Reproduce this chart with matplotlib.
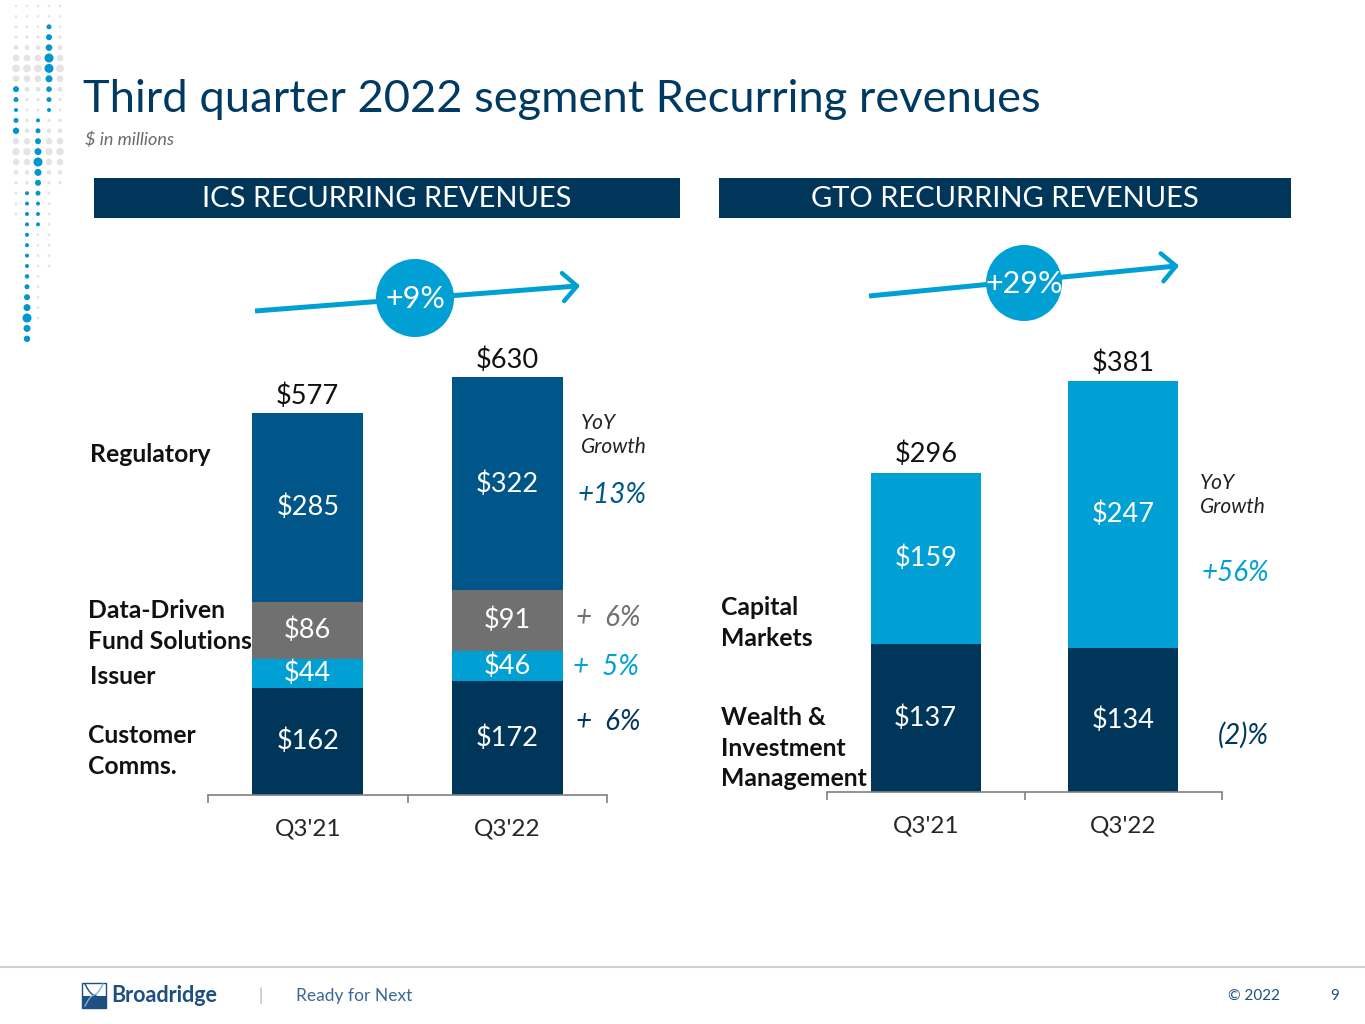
import numpy as np
import matplotlib
matplotlib.use("Agg")
import matplotlib.pyplot as plt
from matplotlib.patches import Circle, Rectangle

plt.rcParams['font.family'] = ['Lato', 'DejaVu Sans']

# ---------------- data ----------------
periods = ["Q3'21", "Q3'22"]

ics_segments = ["Customer Comms.", "Issuer", "Data-Driven Fund Solutions", "Regulatory"]
ics_customer_comms = [162, 172]
ics_issuer = [44, 46]
ics_ddfs = [86, 91]
ics_regulatory = [285, 322]
ics_totals = [577, 630]
ics_growth = ["+  6%", "+  5%", "+  6%", "+13%"]
ics_total_growth = "+9%"

gto_segments = ["Wealth & Investment Management", "Capital Markets"]
gto_wim = [137, 134]
gto_capital_markets = [159, 247]
gto_totals = [296, 381]
gto_growth = ["(2)%", "+56%"]
gto_total_growth = "+29%"

# ---------------- style ----------------
NAVY = "#00365A"
REG = "#005688"
GREY = "#707070"
LBLUE = "#00A0D5"
TITLE = "#003A63"

W, H = 1365, 1024
fig = plt.figure(figsize=(W / 100, H / 100), dpi=100)

# overlay in pixel coordinates
ov = fig.add_axes([0, 0, 1, 1])
ov.set_xlim(0, W)
ov.set_ylim(H, 0)
ov.axis("off")


def px_axes(x0, x1, ybase, ytop):
    return fig.add_axes([x0 / W, 1 - ybase / H, (x1 - x0) / W, (ybase - ytop) / H])


def style_axes(ax, px_per_unit, ybase, ytop):
    ax.set_xlim(-0.5, 1.5)
    ax.set_ylim(0, (ybase - ytop) / px_per_unit)
    ax.patch.set_alpha(0)
    for s in ["top", "right", "left"]:
        ax.spines[s].set_visible(False)
    ax.spines["bottom"].set_color("#808080")
    ax.spines["bottom"].set_linewidth(1.2)
    ax.set_yticks([])
    ax.set_xticks([0, 1])
    ax.set_xticklabels(periods, fontsize=17.5, color="#262626")
    ax.tick_params(axis="x", which="major", length=0, pad=17)
    ax.set_xticks([-0.5, 0.5, 1.5], minor=True)
    ax.tick_params(axis="x", which="minor", length=6, width=1.2, color="#808080",
                   direction="out")


def stacked(ax, layers, colors, width):
    x = np.arange(len(periods))
    bottom = np.zeros(len(periods))
    for vals, col in zip(layers, colors):
        vals = np.asarray(vals, dtype=float)
        ax.bar(x, vals, width, bottom=bottom, color=col, edgecolor="none")
        for xi, b, v in zip(x, bottom, vals):
            ax.text(xi, b + v / 2, f"${int(v)}", ha="center", va="center",
                    color="white", fontsize=19.5)
        bottom = bottom + vals
    return bottom


# ---------------- left chart (ICS) ----------------
axL = px_axes(208, 607, 795, 300)
style_axes(axL, 0.662, 795, 300)
stacked(axL, [ics_customer_comms, ics_issuer, ics_ddfs, ics_regulatory],
        [NAVY, LBLUE, GREY, REG], 0.555)
for i, t in enumerate(ics_totals):
    top = ics_customer_comms[i] + ics_issuer[i] + ics_ddfs[i] + ics_regulatory[i]
    axL.annotate(f"${t}", (i, top), xytext=(0, 3), textcoords="offset points",
                 ha="center", va="bottom", fontsize=19.5, color="#111111")

# ---------------- right chart (GTO) ----------------
axR = px_axes(827, 1222, 792, 300)
style_axes(axR, 1.078, 792, 300)
stacked(axR, [gto_wim, gto_capital_markets], [NAVY, LBLUE], 0.557)
for i, t in enumerate(gto_totals):
    top = gto_wim[i] + gto_capital_markets[i]
    axR.annotate(f"${t}", (i, top), xytext=(0, 4), textcoords="offset points",
                 ha="center", va="bottom", fontsize=19.5, color="#111111")

# ---------------- title & headers ----------------
ov.text(83, 99, "Third quarter 2022 segment Recurring revenues", fontsize=32.6,
        color=TITLE, ha="left", va="center")
ov.text(85, 140, "$ in millions", fontsize=13, style="italic", color="#6A6A6A",
        ha="left", va="center")

ov.add_patch(Rectangle((94, 178), 586, 40, color=NAVY, lw=0))
ov.text(387, 199, "ICS RECURRING REVENUES", color="white", fontsize=21,
        ha="center", va="center")
ov.add_patch(Rectangle((719, 178), 572, 40, color=NAVY, lw=0))
ov.text(1005, 199, "GTO RECURRING REVENUES", color="white", fontsize=21,
        ha="center", va="center")

# ---------------- growth arrows ----------------
def growth_arrow(x0, y0, x1, y1, cx, cy, r, label):
    ov.plot([x0, x1], [y0, y1], color=LBLUE, lw=3.6, solid_capstyle="butt", zorder=3)
    d = np.array([x1 - x0, y1 - y0], float)
    d /= np.hypot(*d)
    n = np.array([-d[1], d[0]])
    L = 14
    for sgn in (1, -1):
        p = np.array([x1, y1]) - L * d + sgn * L * n
        ov.plot([p[0], x1], [p[1], y1], color=LBLUE, lw=3.2,
                solid_capstyle="round", zorder=3)
    ov.add_patch(Circle((cx, cy), r, color=LBLUE, lw=0, zorder=4))
    ov.text(cx, cy + 1, label, color="white", fontsize=22, ha="center",
            va="center", zorder=5)


growth_arrow(255, 311, 577, 286, 415, 298, 39, ics_total_growth)
growth_arrow(869, 296, 1176, 266, 1024, 283, 38, gto_total_growth)

# ---------------- segment labels ----------------
lab_kw = dict(fontsize=17.8, fontweight="bold", color="#111111", ha="left",
              va="center", linespacing=1.38)
ov.text(90, 454, "Regulatory", **lab_kw)
ov.text(88, 626, "Data-Driven\nFund Solutions", **lab_kw)
ov.text(90, 677, "Issuer", **lab_kw)
ov.text(88, 751, "Customer\nComms.", **lab_kw)
ov.text(721, 623, "Capital\nMarkets", **lab_kw)
ov.text(721, 748, "Wealth &\nInvestment\nManagement", **lab_kw)

# ---------------- YoY growth ----------------
yoy_kw = dict(fontsize=15, style="italic", color="#222222", ha="left",
              va="center", linespacing=1.3)
ov.text(581, 435, "YoY\nGrowth", **yoy_kw)
ov.text(1200, 495, "YoY\nGrowth", **yoy_kw)

g_kw = dict(fontsize=20, style="italic", ha="left", va="center")
ov.text(578, 495, ics_growth[3], color=REG, **g_kw)
ov.text(576, 618, ics_growth[2], color=GREY, **g_kw)
ov.text(573, 667, ics_growth[1], color=LBLUE, **g_kw)
ov.text(576, 722, ics_growth[0], color=NAVY, **g_kw)
ov.text(1202, 573, gto_growth[1], color=LBLUE, **g_kw)
ov.text(1218, 735, gto_growth[0], color=NAVY, **g_kw)

# ---------------- decorative dots ----------------
cols = [16, 27, 38, 49, 60]


def rowy(k):
    return 6 + 10.4 * k


grey_ranges = {0: (0, 20), 1: (0, 17), 2: (0, 30), 3: (0, 25), 4: (0, 17)}
blue = {
    3: {2: 2.5, 3: 3, 4: 3.3, 5: 4.5, 6: 4.5, 7: 3.5, 8: 2.8, 9: 2.5, 10: 2},
    0: {8: 3, 9: 2.5, 10: 2, 11: 2.5, 12: 3.2},
    2: {11: 2, 12: 2.5, 13: 3, 14: 3.5, 15: 4.5, 16: 3.5, 17: 3, 18: 2.5,
        19: 2, 20: 2, 21: 2},
    1: {18: 2, 19: 2, 20: 2, 21: 2, 22: 2, 23: 2, 24: 2, 25: 2, 26: 2.2,
        27: 2.5, 28: 3, 29: 3.5, 30: 4.5, 31: 3.5, 32: 3.2},
}
for ci, (k0, k1) in grey_ranges.items():
    for k in range(k0, k1 + 1):
        if k in blue.get(ci, {}):
            continue
        r = 1.3 + 2.6 * np.exp(-((k - 6) / 2.2) ** 2) + 2.4 * np.exp(-((k - 14) / 2.2) ** 2)
        if k > 18:
            r = 1.4
        ov.add_patch(Circle((cols[ci], rowy(k)), r, color="#E4E4E4", lw=0))
for ci, rows in blue.items():
    for k, r in rows.items():
        ov.add_patch(Circle((cols[ci], rowy(k)), r, color="#0096CF", lw=0))

# ---------------- footer ----------------
ov.plot([0, W], [967, 967], color="#D0D0D0", lw=1.5)
ov.add_patch(Rectangle((82, 983), 24, 25, facecolor="white", edgecolor="#1D4F80", lw=1))
ov.add_patch(Rectangle((82, 996), 24, 12, facecolor="#1D4F80", lw=0))
t = np.linspace(-1, 1, 30)
ov.plot(94 + 9 * np.sign(t) * np.abs(t) ** 0.6, 995 + 11 * t, color="#1D4F80", lw=1)
ov.plot(94 - 9 * np.sign(t) * np.abs(t) ** 0.6, 995 + 11 * t, color="#7FB2D9", lw=1)
ov.text(111, 996, "Broadridge", fontsize=15.5, fontweight="bold", color="#1D4F80",
        ha="left", va="center")
ov.text(258, 996, "|", fontsize=12, color="#B0B0B0", ha="left", va="center")
ov.text(296, 996, "Ready for Next", fontsize=12.5, color="#3A6896",
        ha="left", va="center")
ov.text(1228, 996, "© 2022", fontsize=11, color="#1D4F80", ha="left", va="center")
ov.text(1330, 996, "9", fontsize=11, color="#1D4F80", ha="left", va="center")

fig.savefig("out.png", dpi=100)
